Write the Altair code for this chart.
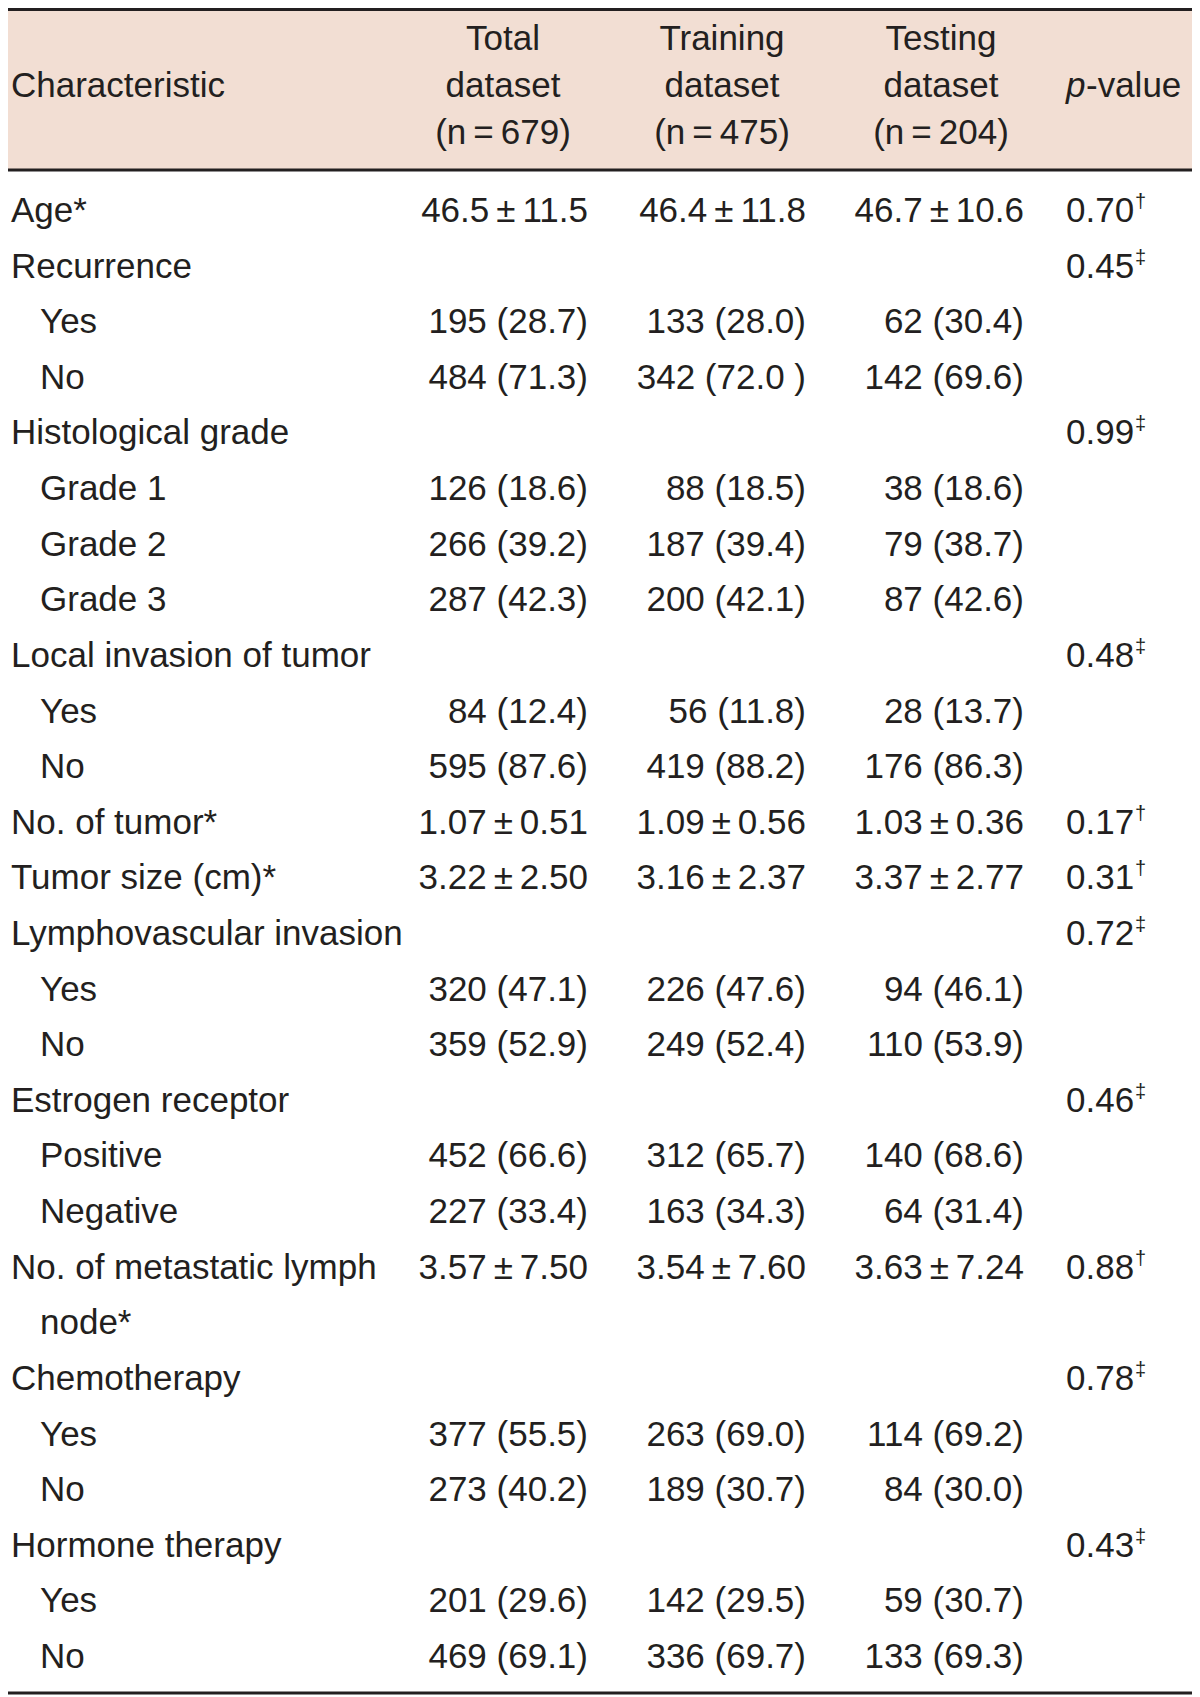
import altair as alt
import pandas as pd

labels = ["Age*", "Recurrence", "Yes", "No", "Histological grade", "Grade 1",
          "Grade 2", "Grade 3", "Local invasion of tumor", "Yes", "No",
          "No. of tumor*", "Tumor size (cm)*", "Lymphovascular invasion", "Yes",
          "No", "Estrogen receptor", "Positive", "Negative",
          "No. of metastatic lymph", "node*", "Chemotherapy", "Yes", "No",
          "Hormone therapy", "Yes", "No"]
indent = [0, 0, 1, 1, 0, 1, 1, 1, 0, 1, 1, 0, 0, 0, 1, 1, 0, 1, 1, 0, 1, 0, 1, 1, 0, 1, 1]

T = "\u2009"
total = [f"46.5{T}±{T}11.5", "", "195 (28.7)", "484 (71.3)", "", "126 (18.6)",
         "266 (39.2)", "287 (42.3)", "", "84 (12.4)", "595 (87.6)",
         f"1.07{T}±{T}0.51", f"3.22{T}±{T}2.50", "", "320 (47.1)", "359 (52.9)", "",
         "452 (66.6)", "227 (33.4)", f"3.57{T}±{T}7.50", "", "", "377 (55.5)",
         "273 (40.2)", "", "201 (29.6)", "469 (69.1)"]
training = [f"46.4{T}±{T}11.8", "", "133 (28.0)", "342 (72.0 )", "", "88 (18.5)",
            "187 (39.4)", "200 (42.1)", "", "56 (11.8)", "419 (88.2)",
            f"1.09{T}±{T}0.56", f"3.16{T}±{T}2.37", "", "226 (47.6)", "249 (52.4)", "",
            "312 (65.7)", "163 (34.3)", f"3.54{T}±{T}7.60", "", "", "263 (69.0)",
            "189 (30.7)", "", "142 (29.5)", "336 (69.7)"]
testing = [f"46.7{T}±{T}10.6", "", "62 (30.4)", "142 (69.6)", "", "38 (18.6)",
           "79 (38.7)", "87 (42.6)", "", "28 (13.7)", "176 (86.3)",
           f"1.03{T}±{T}0.36", f"3.37{T}±{T}2.77", "", "94 (46.1)", "110 (53.9)", "",
           "140 (68.6)", "64 (31.4)", f"3.63{T}±{T}7.24", "", "", "114 (69.2)",
           "84 (30.0)", "", "59 (30.7)", "133 (69.3)"]
pvalues = ["0.70", "0.45", "", "", "0.99", "", "", "", "0.48", "", "", "0.17",
           "0.31", "0.72", "", "", "0.46", "", "", "0.88", "", "0.78", "", "",
           "0.43", "", ""]
pmarks = ["†", "‡", "", "", "‡", "", "", "", "‡", "", "", "†", "†", "‡", "", "",
          "‡", "", "", "†", "", "‡", "", "", "‡", "", ""]

columns = ["Total", "Training", "Testing"]
header_lines = [
    ["Total", "dataset", f"(n{T}={T}679)"],
    ["Training", "dataset", f"(n{T}={T}475)"],
    ["Testing", "dataset", f"(n{T}={T}204)"],
]

# ---------------- tables built from the arrays ----------------
n = len(labels)
body = pd.DataFrame({"row": list(range(n)), "label": labels, "indent": indent})

vals = []
for col, arr in zip(columns, [total, training, testing]):
    for i, t in enumerate(arr):
        if t:
            vals.append({"row": i, "col": col, "text": t})
vals = pd.DataFrame(vals)

pv = pd.DataFrame([{"row": i, "p": p, "mark": m, "pc": "p"}
                   for i, (p, m) in enumerate(zip(pvalues, pmarks)) if p])

hdr = pd.DataFrame([{"col": c, "line": j, "text": t}
                    for c, lines in zip(columns, header_lines)
                    for j, t in enumerate(lines)])
hdr_left = pd.DataFrame({"line": [1], "text": ["Characteristic"], "k": [0]})
hdr_p = pd.DataFrame({"line": [1], "p": ["p"], "rest": ["-value"], "pc": ["p"]})

# ---------------- layout / style ----------------
W, H = 1184, 1689
FONT = "Liberation Sans"
FS = 35
INK = "#231F20"
BG = "#F2DED3"

ybody = alt.Y("row:Q", scale=alt.Scale(domain=[0, n - 1], range=[203, 1649],
                                         nice=False, zero=False), axis=None)
yhead = alt.Y("line:Q", scale=alt.Scale(domain=[0, 2], range=[31, 125],
                                          nice=False, zero=False), axis=None)
xp = alt.X("pc:N", scale=alt.Scale(type="point", domain=["p"], range=[1058, 1058]), axis=None)

def txt(**kw):
    base = dict(font=FONT, fontSize=FS, color=INK, baseline="middle")
    base.update(kw)
    return base

bg = alt.Chart(pd.DataFrame({"k": [0]})).mark_rect(color=BG).encode(
    x=alt.value(0), x2=alt.value(W), y=alt.value(0), y2=alt.value(162))

def hrule(y):
    return alt.Chart(pd.DataFrame({"k": [0]})).mark_rule(color=INK, strokeWidth=3).encode(
        x=alt.value(0), x2=alt.value(W), y=alt.value(y))

label_layer = alt.Chart(body).mark_text(**txt(align="left")).encode(
    x=alt.X("indent:O", scale=alt.Scale(type="point", domain=[0, 1], range=[3, 32], padding=0), axis=None),
    y=ybody, text="label:N")

value_layer = alt.Chart(vals).mark_text(**txt(align="right")).encode(
    x=alt.X("col:N", scale=alt.Scale(type="point", domain=columns, range=[580, 1016], padding=0), axis=None),
    y=ybody, text="text:N")

p_layer = alt.Chart(pv).mark_text(**txt(align="left")).encode(x=xp, y=ybody, text="p:N")
mark_layer = alt.Chart(pv).mark_text(**txt(align="left", fontSize=20, dx=69, dy=-9)).encode(
    x=xp, y=ybody, text="mark:N")

head_layer = alt.Chart(hdr).mark_text(**txt(align="center")).encode(
    x=alt.X("col:N", scale=alt.Scale(type="point", domain=columns, range=[495, 933], padding=0), axis=None),
    y=yhead, text="text:N")
head_left = alt.Chart(hdr_left).mark_text(**txt(align="left")).encode(
    x=alt.X("k:O", scale=alt.Scale(type="point", domain=[0], range=[3, 3]), axis=None),
    y=yhead, text="text:N")
head_p = alt.Chart(hdr_p).mark_text(**txt(align="left", fontStyle="italic")).encode(
    x=xp, y=yhead, text="p:N")
head_rest = alt.Chart(hdr_p).mark_text(**txt(align="left", dx=20)).encode(
    x=xp, y=yhead, text="rest:N")

chart = alt.layer(
    bg, hrule(1.5), hrule(162), hrule(1685),
    head_layer, head_left, head_p, head_rest,
    label_layer, value_layer, p_layer, mark_layer,
).resolve_scale(x="independent", y="independent").properties(
    width=W, height=H, padding=0,
    autosize=alt.AutoSizeParams(type="none"),
).configure_view(stroke=None)

chart.save("out.html", embed_options={"renderer": "svg", "actions": False})
